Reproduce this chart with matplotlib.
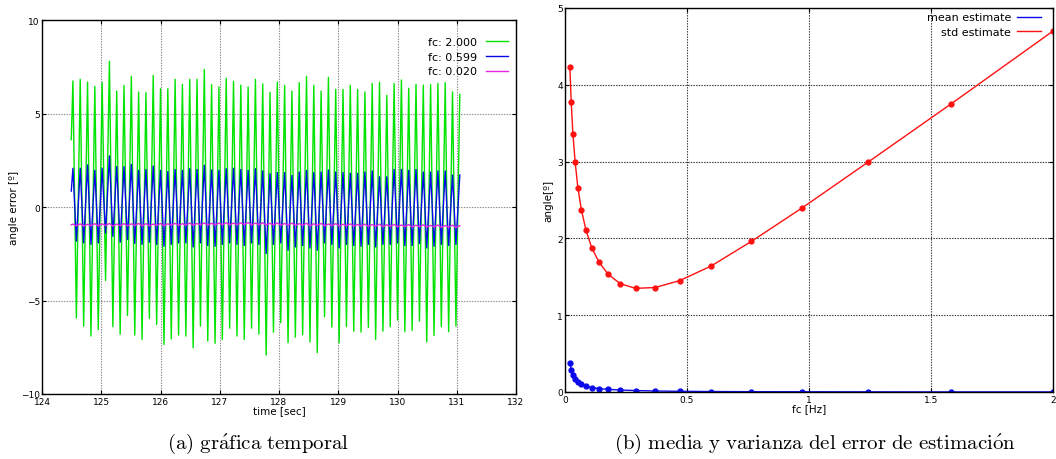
import numpy as np
import matplotlib
matplotlib.use("Agg")
import matplotlib.pyplot as plt
from matplotlib.ticker import FuncFormatter, MultipleLocator

# ---------------- time-domain error (panel a) ----------------
t_start = 124.494          # first sample [s]
t_first_peak = 124.522     # first crest [s]
cycle = 0.1232             # oscillation period [s]

green_start = 3.6
green_peaks = [6.74, 6.83, 6.68, 6.45, 6.67, 7.79, 6.20, 6.50, 6.99, 6.15,
               6.11, 7.04, 6.33, 6.33, 6.83, 6.56, 6.83, 6.83, 7.36, 6.54,
               6.42, 6.88, 6.72, 6.52, 6.42, 6.83, 6.58, 6.13, 6.68, 6.50,
               6.20, 6.65, 6.99, 6.50, 6.20, 6.93, 6.29, 6.29, 6.50, 6.29,
               6.15, 6.61, 6.67, 5.97, 6.60, 6.79, 6.35, 6.56, 6.52, 6.54,
               6.61, 6.65, 6.15, 6.02]
green_troughs = [-5.93, -6.37, -6.90, -6.55, -3.93, -6.40, -6.80, -5.80, -6.85, -7.08,
                 -5.96, -6.28, -7.35, -7.05, -6.85, -6.90, -7.53, -6.37, -7.17, -7.29,
                 -7.08, -6.48, -6.90, -7.08, -6.48, -6.80, -7.92, -6.69, -6.19, -7.26,
                 -6.96, -6.83, -7.22, -7.79, -5.87, -6.42, -7.26, -6.40, -6.64, -6.69,
                 -6.44, -7.08, -6.64, -6.40, -6.05, -6.67, -6.60, -6.10, -7.22, -6.87,
                 -6.40, -6.67, -6.37]

blue_start = 0.85
blue_peaks = [2.07, 2.07, 2.25, 1.96, 2.07, 2.73, 2.16, 2.16, 2.28, 1.96,
              2.01, 2.19, 1.96, 1.89, 2.01, 1.96, 2.05, 2.01, 2.23, 1.98,
              1.96, 2.05, 2.07, 2.01, 1.96, 2.05, 1.93, 1.78, 1.84, 1.84,
              1.69, 1.87, 1.96, 1.84, 1.87, 1.98, 1.87, 1.84, 1.80, 1.80,
              1.87, 1.93, 1.62, 1.62, 2.01, 2.01, 1.96, 2.01, 1.87, 1.87,
              1.93, 1.93, 1.71, 1.71]
blue_troughs = [-1.83, -1.92, -2.00, -1.92, -1.39, -1.57, -1.88, -1.74, -1.95, -2.00,
                -1.88, -2.00, -2.10, -2.00, -1.92, -1.92, -2.14, -1.92, -2.06, -2.10,
                -2.00, -1.92, -2.00, -2.06, -1.92, -2.00, -2.49, -2.00, -1.92, -2.31,
                -2.14, -2.06, -2.19, -2.31, -1.92, -2.00, -2.19, -2.00, -2.06, -2.10,
                -2.00, -2.14, -2.00, -2.00, -1.92, -2.06, -2.06, -1.95, -2.19, -2.10,
                -2.00, -2.06, -2.00]

magenta_start = -0.95
magenta_peaks = [-0.91, -0.90, -0.92, -0.89, -0.90, -0.88, -0.91, -0.89, -0.90, -0.88,
                 -0.89, -0.91, -0.88, -0.90, -0.87, -0.89, -0.86, -0.88, -0.85, -0.87,
                 -0.86, -0.84, -0.86, -0.85, -0.83, -0.86, -0.84, -0.87, -0.85, -0.88,
                 -0.86, -0.89, -0.87, -0.90, -0.88, -0.91, -0.89, -0.92, -0.90, -0.93,
                 -0.91, -0.94, -0.92, -0.95, -0.93, -0.96, -0.94, -0.97, -0.95, -0.98,
                 -0.96, -0.99, -0.97, -1.00]
magenta_troughs = [-1.01, -1.02, -1.00, -1.01, -0.99, -1.02, -1.00, -1.01, -0.99, -1.00,
                   -1.01, -0.99, -1.00, -0.98, -0.99, -0.97, -0.98, -0.96, -0.97, -0.96,
                   -0.95, -0.96, -0.95, -0.94, -0.96, -0.95, -0.97, -0.96, -0.98, -0.97,
                   -0.99, -0.98, -1.00, -0.99, -1.01, -1.00, -1.02, -1.01, -1.03, -1.02,
                   -1.04, -1.03, -1.05, -1.04, -1.06, -1.05, -1.07, -1.06, -1.08, -1.07,
                   -1.09, -1.08, -1.09]

series_labels = ["fc: 2.000", "fc: 0.599", "fc: 0.020"]

# ---------------- estimation statistics (panel b) ----------------
fc = [0.0200, 0.0255, 0.0325, 0.0414, 0.0528, 0.0673, 0.0858, 0.1094, 0.1395, 0.1778,
      0.2267, 0.2890, 0.3684, 0.4697, 0.5988, 0.7634, 0.9732, 1.2406, 1.5817, 2.0000]
mean_est = [0.38, 0.29, 0.22, 0.17, 0.13, 0.10, 0.075, 0.058, 0.044, 0.034,
            0.026, 0.019, 0.013, 0.009, 0.006, 0.004, 0.003, 0.002, 0.001, 0.001]
std_est = [4.23, 3.77, 3.36, 3.00, 2.66, 2.37, 2.11, 1.88, 1.69, 1.53,
           1.41, 1.35, 1.36, 1.45, 1.64, 1.96, 2.40, 2.99, 3.75, 4.70]

captions = [r"$\mathrm{(a)\ gr\'{a}fica\ temporal}$",
            r"$\mathrm{(b)\ media\ y\ varianza\ del\ error\ de\ estimaci\'{o}n}$"]


def waveform(start, peaks, troughs):
    """Alternate crest / trough samples on the common time base."""
    n = len(peaks)
    tp = t_first_peak + cycle * np.arange(n)
    t = [t_start]
    y = [start]
    for k in range(n):
        t.append(tp[k]); y.append(peaks[k])
        if k < len(troughs):
            t.append(tp[k] + 0.47 * cycle); y.append(troughs[k])
    return np.array(t), np.array(y)


plt.rcParams["font.family"] = ["DejaVu Sans"]
plt.rcParams["mathtext.fontset"] = "cm"
fig = plt.figure(figsize=(10.56, 4.60), dpi=100)

W, H = 1056, 460
axa = fig.add_axes([42 / W, 1 - 395 / H, (516 - 42) / W, (395 - 21) / H])
axb = fig.add_axes([565 / W, 1 - 393 / H, (1053 - 565) / W, (393 - 9) / H])

GREEN = "#00e400"
BLUE = "#0a0ae8"
MAGENTA = "#e426e4"
RED = "#ff1010"

for (s, p, tr), col, lab in zip(
        [(green_start, green_peaks, green_troughs),
         (blue_start, blue_peaks, blue_troughs),
         (magenta_start, magenta_peaks, magenta_troughs)],
        [GREEN, BLUE, MAGENTA], series_labels):
    t, y = waveform(s, p, tr)
    axa.plot(t, y, color=col, lw=1.0, label=lab)

axa.set_xlim(124, 132)
axa.set_ylim(-10, 10)
axa.xaxis.set_major_locator(MultipleLocator(1))
axa.yaxis.set_major_locator(MultipleLocator(5))
axa.grid(True, color="#8a8a8a", linestyle=(0, (1.2, 1.2)), lw=0.8)
axa.set_xlabel("time [sec]", fontsize=7.5, labelpad=-1)
axa.set_ylabel("angle error [º]", fontsize=7.5, labelpad=1.5)
axa.legend(loc="upper right", bbox_to_anchor=(1.0, 0.975), frameon=False,
           markerfirst=False, fontsize=8, handlelength=2.0, labelspacing=0.42,
           handletextpad=0.8, borderaxespad=0.3)

axb.plot(fc, mean_est, color=BLUE, lw=1.0, marker="o", ms=3.5, label="mean estimate")
axb.plot(fc, std_est, color=RED, lw=1.0, marker="o", ms=3.5, label="std estimate")
axb.set_xlim(0, 2)
axb.set_ylim(0, 5)
axb.xaxis.set_major_locator(MultipleLocator(0.5))
axb.yaxis.set_major_locator(MultipleLocator(1))
axb.xaxis.set_major_formatter(FuncFormatter(lambda v, p: "%g" % v))
axb.grid(True, color="#303030", linestyle=(0, (1.2, 1.2)), lw=0.8)
axb.set_xlabel("fc [Hz]", fontsize=7.5, labelpad=-1)
axb.set_ylabel("angle[º]", fontsize=7.5, labelpad=3)
axb.legend(loc="upper right", bbox_to_anchor=(0.985, 1.0), frameon=False,
           markerfirst=False, fontsize=8, handlelength=2.2, labelspacing=0.42,
           handletextpad=0.5, borderaxespad=0.0)
for h in axb.get_legend().legend_handles:
    h.set_marker("")

for ax in (axa, axb):
    ax.tick_params(direction="in", length=3, width=0.8, top=True, right=True,
                   labelsize=6.5, colors="black")
    ax.tick_params(axis="x", pad=2.5)
    ax.tick_params(axis="y", pad=1.5)
    for sp in ax.spines.values():
        sp.set_linewidth(1.0)
        sp.set_color("black")
    ax.set_axisbelow(True)

fig.text(258 / W, 1 - 444 / H, captions[0], ha="center", va="center", fontsize=15)
fig.text(815 / W, 1 - 444 / H, captions[1], ha="center", va="center", fontsize=15)

fig.savefig("out.png", dpi=100)
